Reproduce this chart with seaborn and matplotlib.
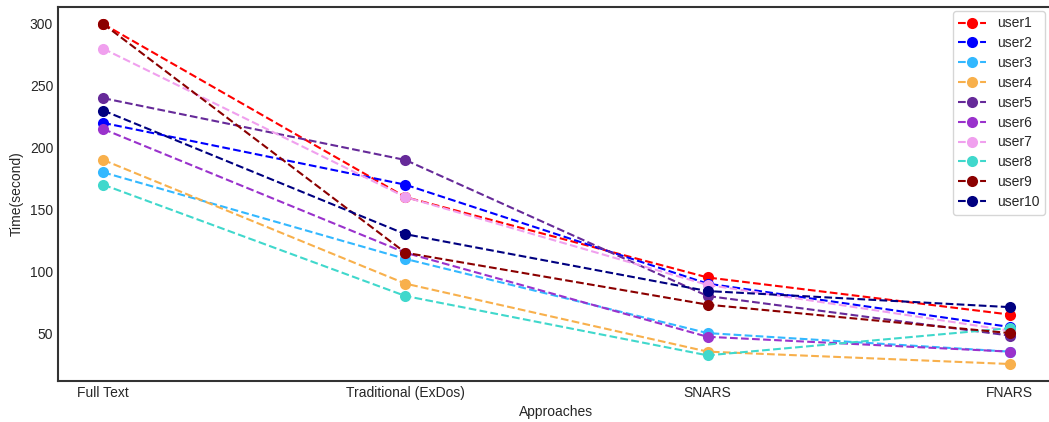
import matplotlib
matplotlib.use("Agg")
import matplotlib.pyplot as plt
import seaborn as sns
import pandas as pd

approaches = ["Full Text", "Traditional (ExDos)", "SNARS", "FNARS"]
users = ["user1", "user2", "user3", "user4", "user5", "user6", "user7", "user8", "user9", "user10"]

user1 = [300, 160, 95, 65]
user2 = [220, 170, 90, 55]
user3 = [180, 110, 50, 35]
user4 = [190, 90, 35, 25]
user5 = [240, 190, 80, 48]
user6 = [215, 115, 47, 35]
user7 = [280, 160, 89, 52]
user8 = [170, 80, 32, 54]
user9 = [300, 115, 73, 50]
user10 = [230, 130, 84, 71]

colors = ["#ff0000", "#0000ff", "#33b8ff", "#f8b04c", "#662a99", "#9a32cc",
          "#f0a0ee", "#40d8cc", "#8b0000", "#000080"]

series = [user1, user2, user3, user4, user5, user6, user7, user8, user9, user10]
rows = []
for u, vals in zip(users, series):
    for i, (a, v) in enumerate(zip(approaches, vals)):
        rows.append({"user": u, "approach": a, "pos": i, "time": v})
df = pd.DataFrame(rows)

sns.set_theme(style="white")
plt.rcParams["font.family"] = ["Liberation Sans", "DejaVu Sans"]

fig = plt.figure(figsize=(10.49, 4.22), dpi=100)
ax = fig.add_axes([58 / 1049, 41 / 422, 997 / 1049, 374 / 422])

sns.lineplot(data=df, x="pos", y="time", hue="user", hue_order=users,
             palette=colors, linestyle="--", marker="o", markersize=8,
             markeredgewidth=0, linewidth=1.5, ax=ax, legend=True)

ax.set_xticks(range(len(approaches)))
ax.set_xticklabels(approaches)
ax.set_xlabel("Approaches", fontsize=10)
ax.set_ylabel("Time(second)", fontsize=10)
ax.tick_params(labelsize=10, length=0)
ax.margins(x=0.05, y=0.05)
for s in ax.spines.values():
    s.set_color("#333333")
    s.set_linewidth(1.5)

leg = ax.legend(loc="upper right", fontsize=10, frameon=True,
                bbox_to_anchor=(990 / 997, 0.997), borderaxespad=0.2,
                labelspacing=0.42, handlelength=2.0)
leg.get_frame().set_edgecolor("#cccccc")
for h in leg.legend_handles:
    h.set_linestyle("--")

fig.savefig("out.png", dpi=100)
